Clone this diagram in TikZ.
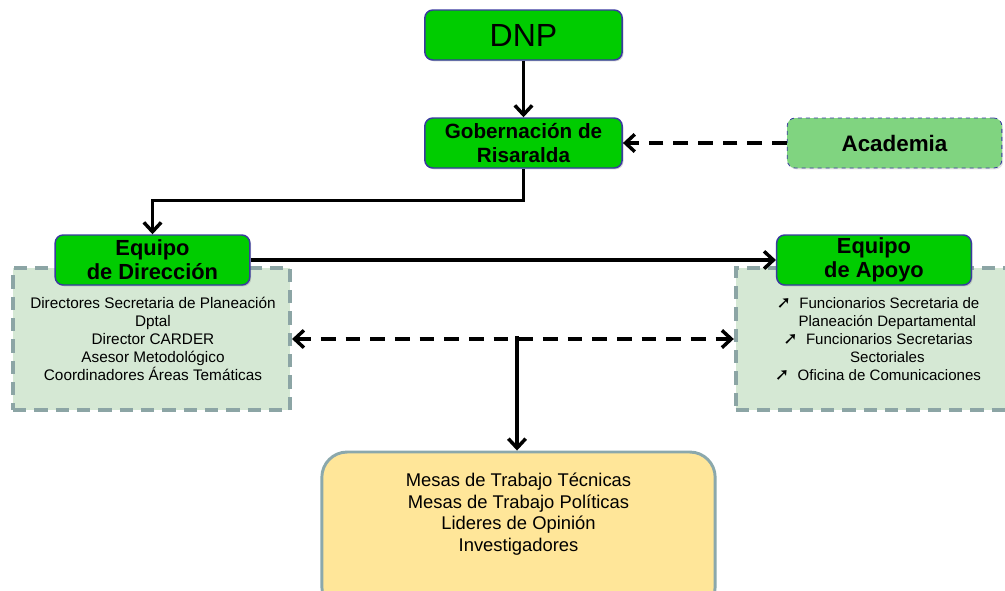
\documentclass[tikz,border=0pt]{standalone}
\usepackage{fontspec}
\setmainfont{Liberation Sans}
\newfontfamily\symfont{DejaVu Sans}
\usetikzlibrary{arrows.meta,shadows}

\definecolor{boxgreen}{HTML}{00CC00}
\definecolor{boxblue}{HTML}{3A3AA0}
\definecolor{acadgreen}{HTML}{80D480}
\definecolor{notefill}{HTML}{D5E8D4}
\definecolor{notegray}{HTML}{8CA5A5}
\definecolor{mesasfill}{HTML}{FFE699}
\definecolor{mesasline}{HTML}{8BA8AC}

\newcommand{\blt}{\makebox[17pt][l]{\symfont\bfseries\fontsize{13}{10}\selectfont ➚}}

\begin{document}
\begin{tikzpicture}[x=0.75pt, y=-0.75pt,
    greenbox/.style={draw=boxblue, line width=1.1pt, fill=boxgreen, rounded corners=6pt,
        minimum width=148pt, minimum height=37.5pt, align=center, inner sep=0pt,
        drop shadow={shadow xshift=1pt, shadow yshift=-1pt, opacity=0.35}},
    teambox/.style={greenbox, minimum width=146pt,
        font=\bfseries\fontsize{16.4}{18}\selectfont},
    notebox/.style={draw=notegray, fill=notefill, line width=2.8pt,
        dash pattern=on 10pt off 6pt, inner sep=0pt},
    conn/.style={line width=2.6pt, -{Straight Barb[length=7pt,width=13pt]}},
    dconn/.style={conn, dash pattern=on 11pt off 7.5pt}]

  \clip (0,0) rectangle (1005,590);

  % Top of the chart
  \node[greenbox, font=\fontsize{24}{26}\selectfont] (dnp) at (523.5,35) {DNP};
  \node[greenbox, font=\bfseries\fontsize{15.5}{18.7}\selectfont] (gob) at (523.5,143) {Gobernación de\\Risaralda};
  \node[draw=boxblue, line width=0.6pt, dashed, fill=acadgreen, rounded corners=6pt,
        minimum width=161pt, minimum height=37.5pt, inner sep=0pt,
        font=\bfseries\fontsize{16.8}{18}\selectfont,
        drop shadow={shadow xshift=1pt, shadow yshift=-1pt, opacity=0.25}] (acad) at (894.5,143) {Academia};

  % Note boxes behind the teams
  \node[notebox, minimum width=208pt, minimum height=106.5pt] (dirnote) at (151.5,339) {};
  \node[notebox, minimum width=212pt, minimum height=106.5pt] (aponote) at (877,339) {};

  % Teams
  \node[teambox] (dir) at (152.5,260) {Equipo\\de Dirección};
  \node[teambox] (apo) at (874,260) {Equipo\\de Apoyo};

  \node[align=center, font=\fontsize{11.5}{13.5}\selectfont] (dirtxt) at (153,339)
    {Directores Secretaria de Planeación\\Dptal\\Director CARDER\\Asesor Metodológico\\Coordinadores Áreas Temáticas};
  \node[align=center, font=\fontsize{11.3}{13.5}\selectfont] (apotxt) at (878,339)
    {\blt Funcionarios Secretaria de\\\hspace*{14pt}Planeación Departamental\\\blt Funcionarios Secretarias\\\hspace*{14pt}Sectoriales\\\blt Oficina de Comunicaciones};

  % Working groups
  \node[draw=mesasline, fill=mesasfill, line width=2.2pt, rounded corners=19pt,
        minimum width=295pt, minimum height=120pt] (mesas) at (518.5,532) {};
  \node[align=center, anchor=north, font=\fontsize{13.8}{16.3}\selectfont] (mesastxt) at (518.5,468)
    {Mesas de Trabajo Técnicas\\Mesas de Trabajo Políticas\\Lideres de Opinión\\Investigadores};

  % Connectors
  \draw[conn] (dnp) -- (gob);
  \draw[dconn] (acad) -- (gob);
  \draw[conn] (gob.south) -- ++(0,32) -| (dir.north);
  \draw[conn] (dir.east) -- (apo.west);
  \draw[dconn, {Straight Barb[length=7pt,width=13pt]}-{Straight Barb[length=7pt,width=13pt]}] (dirnote.east) -- (aponote.west);
  \coordinate (split) at (517,336);
  \draw[conn] (split) -- (split |- mesas.north);
\end{tikzpicture}
\end{document}
